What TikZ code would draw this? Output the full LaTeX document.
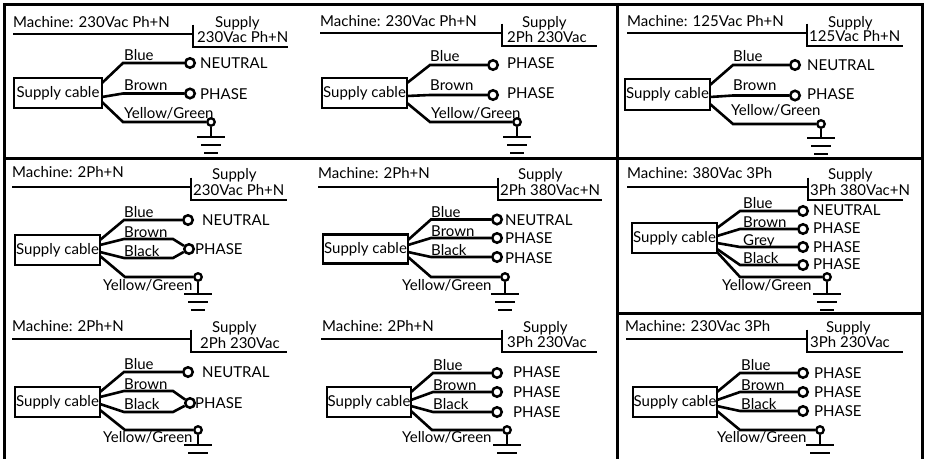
\documentclass[tikz,border=0pt]{standalone}
\usepackage{fontspec}
\setmainfont{Lato}
\usetikzlibrary{calc}
\tikzset{
  wire/.style={line width=2.6pt},
  frame/.style={line width=3pt},
  cablebox/.style={draw, line width=2.6pt, minimum width=85pt, minimum height=30pt, inner sep=0pt},
  term/.style={circle, draw, line width=2.5pt, minimum size=9.5pt, inner sep=0pt},
  eterm/.style={circle, draw, line width=2.3pt, minimum size=7.5pt, inner sep=0pt},
  lbl/.style={anchor=base west, inner sep=0pt},
}
\newcommand\cellhd[5]{%
  \coordinate (#1-m0) at (#2,#3);
  \coordinate (#1-m1) at (#4,#3);
  \coordinate (#1-s0) at (#4,#3-9.5);
  \coordinate (#1-s1) at (#4,#3+13);
  \coordinate (#1-s2) at (#5,#3+13);
  \draw[wire] (#1-m0) -- (#1-m1);
  \draw[wire] (#1-s0) -- (#1-s1) -- (#1-s2);
}
\newcommand\gndsym[4]{%
  \node[eterm] (#1-e) at (#2,#3) {};
  \coordinate (#1-g) at (#2,#4);
  \draw[wire] (#1-e) -- (#1-g);
  \draw[wire] ($(#1-g)+(-14,0)$) -- ($(#1-g)+(14,0)$);
  \draw[wire] ($(#1-g)+(-10,8)$) -- ($(#1-g)+(10,8)$);
  \draw[wire] ($(#1-g)+(-7,16)$) -- ($(#1-g)+(7,16)$);
}
\newcommand\wireA[4]{\coordinate (#1a) at (#2); \coordinate (#1b) at (#3); \draw[wire] (#1a) -- (#1b) -- (#4);}
\newcommand\wireB[5]{\coordinate (#1a) at (#2); \coordinate (#1b) at (#3); \coordinate (#1c) at (#4); \draw[wire] (#1a) -- (#1b) -- (#1c) -- (#5);}
\begin{document}
\begin{tikzpicture}[x=1pt,y=-1pt,font=\fontsize{15}{18}\selectfont]
\useasboundingbox (0,0) rectangle (925,458);
% frame
\coordinate (f-tl) at (4.5,4.5); \coordinate (f-tr) at (922.5,4.5);
\coordinate (f-bl) at (4.5,470); \coordinate (f-br) at (922.5,470);
\coordinate (f-ml) at (4.5,158.5); \coordinate (f-mr) at (922.5,158.5);
\coordinate (f-ct) at (617,4.5); \coordinate (f-cb) at (617,470);
\coordinate (f-r3l) at (617,313); \coordinate (f-r3r) at (922.5,313);
\draw[frame] (f-bl) -- (f-tl) -- (f-tr) -- (f-br);
\draw[frame] (f-ml) -- (f-mr);
\draw[frame] (f-ct) -- (f-cb);
\draw[frame] (f-r3l) -- (f-r3r);

% ---- Cell A
\cellhd{a}{13}{34}{193}{288}
\node[lbl] (a-mt) at (13,27) {Machine: 230Vac Ph+N};
\node[lbl] (a-st) at (215,27) {Supply};
\node[lbl] (a-sv) at (197,42) {230Vac Ph+N};
\node[cablebox, minimum width=88pt] (a-box) at (58,93) {Supply cable};
\node[term] (a-t1) at (190,63) {};
\node[term] (a-t2) at (190,93.5) {};
\gndsym{a}{211}{122}{137}
\wireA{a-w1}{102,83}{123,63}{a-t1}
\wireA{a-w2}{102,97}{123,93.5}{a-t2}
\wireA{a-w3}{102,102}{123,122}{a-e}
\node[lbl] (a-l1) at (124,60) {Blue};
\node[lbl] (a-l2) at (124,90) {Brown};
\node[lbl] (a-l3) at (124,118) {Yellow/Green};
\node[lbl] (a-p1) at (200,68) {NEUTRAL};
\node[lbl] (a-p2) at (200,99) {PHASE};

% ---- Cell B
\cellhd{b}{320}{33}{502}{597}
\node[lbl] (b-mt) at (320,26) {Machine: 230Vac Ph+N};
\node[lbl] (b-st) at (522,27) {Supply};
\node[lbl] (b-sv) at (507,42) {2Ph 230Vac};
\node[cablebox] (b-box) at (364.5,93) {Supply cable};
\node[term] (b-t1) at (493,65) {};
\node[term] (b-t2) at (493,95) {};
\gndsym{b}{517}{122}{137}
\wireA{b-w1}{407,83}{430,65}{b-t1}
\wireA{b-w2}{407,96}{430,95}{b-t2}
\wireA{b-w3}{407,103}{430,122}{b-e}
\node[lbl] (b-l1) at (430,61) {Blue};
\node[lbl] (b-l2) at (430,90) {Brown};
\node[lbl] (b-l3) at (431,118) {Yellow/Green};
\node[lbl] (b-p1) at (507,68) {PHASE};
\node[lbl] (b-p2) at (507,98) {PHASE};

% ---- Cell C
\cellhd{c}{627}{33}{807}{903}
\node[lbl] (c-mt) at (627,26) {Machine: 125Vac Ph+N};
\node[lbl] (c-st) at (828,27) {Supply};
\node[lbl] (c-sv) at (809,41) {125Vac Ph+N};
\node[cablebox, minimum height=31pt] (c-box) at (667.5,94.5) {Supply cable};
\node[term] (c-t1) at (795,65) {};
\node[term] (c-t2) at (795,95.5) {};
\gndsym{c}{821}{124}{138}
\wireA{c-w1}{710,85}{733,65}{c-t1}
\wireA{c-w2}{710,97}{733,95.5}{c-t2}
\wireA{c-w3}{710,104}{733,124}{c-e}
\node[lbl] (c-l1) at (733,61) {Blue};
\node[lbl] (c-l2) at (733,90) {Brown};
\node[lbl] (c-l3) at (731,115) {Yellow/Green};
\node[lbl] (c-p1) at (807,70) {NEUTRAL};
\node[lbl] (c-p2) at (807,99) {PHASE};

% ---- Cell D
\cellhd{d}{12}{187}{191}{287}
\node[lbl] (d-mt) at (12,177) {Machine: 2Ph+N};
\node[lbl] (d-st) at (212,179) {Supply};
\node[lbl] (d-sv) at (193,195) {230Vac Ph+N};
\node[cablebox] (d-box) at (57.5,250) {Supply cable};
\node[term] (d-t1) at (188,220) {};
\node[term] (d-t2) at (189,249) {};
\gndsym{d}{198}{277}{294}
\wireA{d-w1}{100,240}{124,220}{d-t1}
\wireB{d-w2}{100,245}{124,239}{173,239}{d-t2}
\wireB{d-w3}{100,252}{124,258}{173,258}{d-t2}
\wireA{d-w4}{100,256}{125,277}{d-e}
\node[lbl] (d-l1) at (124,217) {Blue};
\node[lbl] (d-l2) at (124,237) {Brown};
\node[lbl] (d-l3) at (124,256) {Black};
\node[lbl] (d-l4) at (103,290) {Yellow/Green};
\node[lbl] (d-p1) at (202,225) {NEUTRAL};
\node[lbl] (d-p2) at (195,254) {PHASE};

% ---- Cell E
\cellhd{e}{318}{187}{498}{602}
\node[lbl] (e-mt) at (318,178) {Machine: 2Ph+N};
\node[lbl] (e-st) at (518,179) {Supply};
\node[lbl] (e-sv) at (500,195) {2Ph 380Vac+N};
\node[cablebox, minimum height=29pt] (e-box) at (365.5,249) {Supply cable};
\node[term] (e-t1) at (497,219.5) {};
\node[term] (e-t2) at (497,238) {};
\node[term] (e-t3) at (497,257) {};
\gndsym{e}{505}{277}{294}
\wireA{e-w1}{408,240}{431,219.5}{e-t1}
\wireA{e-w2}{408,245}{431,238}{e-t2}
\wireA{e-w3}{408,252}{431,257}{e-t3}
\wireA{e-w4}{408,257}{431,277}{e-e}
\node[lbl] (e-l1) at (431,217) {Blue};
\node[lbl] (e-l2) at (431,236) {Brown};
\node[lbl] (e-l3) at (431,255) {Black};
\node[lbl] (e-l4) at (402,290) {Yellow/Green};
\node[lbl] (e-p1) at (505,225) {NEUTRAL};
\node[lbl] (e-p2) at (505,243) {PHASE};
\node[lbl] (e-p3) at (505,263) {PHASE};

% ---- Cell F
\cellhd{f}{627}{187}{808}{903}
\node[lbl] (f-mt) at (627,178) {Machine: 380Vac 3Ph};
\node[lbl] (f-st) at (828,179) {Supply};
\node[lbl] (f-sv) at (810,195) {3Ph 380Vac+N};
\node[cablebox] (f-box) at (674.5,238) {Supply cable};
\node[term] (f-t1) at (803,211) {};
\node[term] (f-t2) at (803,229) {};
\node[term] (f-t3) at (803,247) {};
\node[term] (f-t4) at (803,265) {};
\gndsym{f}{827}{277}{294}
\wireA{f-w1}{717,228}{740,211}{f-t1}
\wireA{f-w2}{717,236}{740,229}{f-t2}
\wireA{f-w3}{717,243}{740,247}{f-t3}
\wireA{f-w4}{717,249}{740,265}{f-t4}
\wireA{f-w5}{717,252}{740,277}{f-e}
\node[lbl] (f-l1) at (743,208) {Blue};
\node[lbl] (f-l2) at (743,227) {Brown};
\node[lbl] (f-l3) at (743,245) {Grey};
\node[lbl] (f-l4) at (743,263) {Black};
\node[lbl] (f-l5) at (722,290) {Yellow/Green};
\node[lbl] (f-p1) at (813,215) {NEUTRAL};
\node[lbl] (f-p2) at (813,233) {PHASE};
\node[lbl] (f-p3) at (813,252) {PHASE};
\node[lbl] (f-p4) at (813,269) {PHASE};

% ---- Cell G
\cellhd{g}{12}{339}{191}{287}
\node[lbl] (g-mt) at (12,331) {Machine: 2Ph+N};
\node[lbl] (g-st) at (212,332) {Supply};
\node[lbl] (g-sv) at (200,348) {2Ph 230Vac};
\node[cablebox] (g-box) at (57.5,402) {Supply cable};
\node[term] (g-t1) at (188,372) {};
\node[term] (g-t2) at (190,403) {};
\gndsym{g}{198}{430}{445}
\wireA{g-w1}{100,392}{124,372}{g-t1}
\wireB{g-w2}{100,397}{124,391}{173,391}{g-t2}
\wireB{g-w3}{100,404}{124,412}{173,412}{g-t2}
\wireA{g-w4}{100,410}{125,430}{g-e}
\node[lbl] (g-l1) at (124,369) {Blue};
\node[lbl] (g-l2) at (124,389) {Brown};
\node[lbl] (g-l3) at (124,409) {Black};
\node[lbl] (g-l4) at (103,442) {Yellow/Green};
\node[lbl] (g-p1) at (202,377) {NEUTRAL};
\node[lbl] (g-p2) at (195,408) {PHASE};

% ---- Cell H
\cellhd{h}{321}{339}{502}{597}
\node[lbl] (h-mt) at (322,331) {Machine: 2Ph+N};
\node[lbl] (h-st) at (523,332) {Supply};
\node[lbl] (h-sv) at (507,347) {3Ph 230Vac};
\node[cablebox, minimum width=84pt] (h-box) at (369,402) {Supply cable};
\node[term] (h-t1) at (497,373) {};
\node[term] (h-t2) at (497,392) {};
\node[term] (h-t3) at (497,412) {};
\gndsym{h}{507}{430}{445}
\wireA{h-w1}{411,392}{433,373}{h-t1}
\wireA{h-w2}{411,400}{433,392}{h-t2}
\wireA{h-w3}{411,406}{433,412}{h-t3}
\wireA{h-w4}{411,411}{432,430}{h-e}
\node[lbl] (h-l1) at (433,370) {Blue};
\node[lbl] (h-l2) at (433,390) {Brown};
\node[lbl] (h-l3) at (433,409) {Black};
\node[lbl] (h-l4) at (402,442) {Yellow/Green};
\node[lbl] (h-p1) at (513,377) {PHASE};
\node[lbl] (h-p2) at (513,397) {PHASE};
\node[lbl] (h-p3) at (513,417) {PHASE};

% ---- Cell I
\cellhd{i}{626}{339}{807}{903}
\node[lbl] (i-mt) at (625,331) {Machine: 230Vac 3Ph};
\node[lbl] (i-st) at (826,332) {Supply};
\node[lbl] (i-sv) at (810,347) {3Ph 230Vac};
\node[cablebox, minimum width=84pt] (i-box) at (675,402) {Supply cable};
\node[term] (i-t1) at (803,373) {};
\node[term] (i-t2) at (803,392) {};
\node[term] (i-t3) at (803,411) {};
\gndsym{i}{820}{430}{445}
\wireA{i-w1}{717,392}{740,373}{i-t1}
\wireA{i-w2}{717,400}{740,392}{i-t2}
\wireA{i-w3}{717,406}{740,411}{i-t3}
\wireA{i-w4}{717,411}{740,430}{i-e}
\node[lbl] (i-l1) at (741,370) {Blue};
\node[lbl] (i-l2) at (741,390) {Brown};
\node[lbl] (i-l3) at (741,409) {Black};
\node[lbl] (i-l4) at (717,442) {Yellow/Green};
\node[lbl] (i-p1) at (814,378) {PHASE};
\node[lbl] (i-p2) at (814,397) {PHASE};
\node[lbl] (i-p3) at (814,416) {PHASE};
\end{tikzpicture}
\end{document}
